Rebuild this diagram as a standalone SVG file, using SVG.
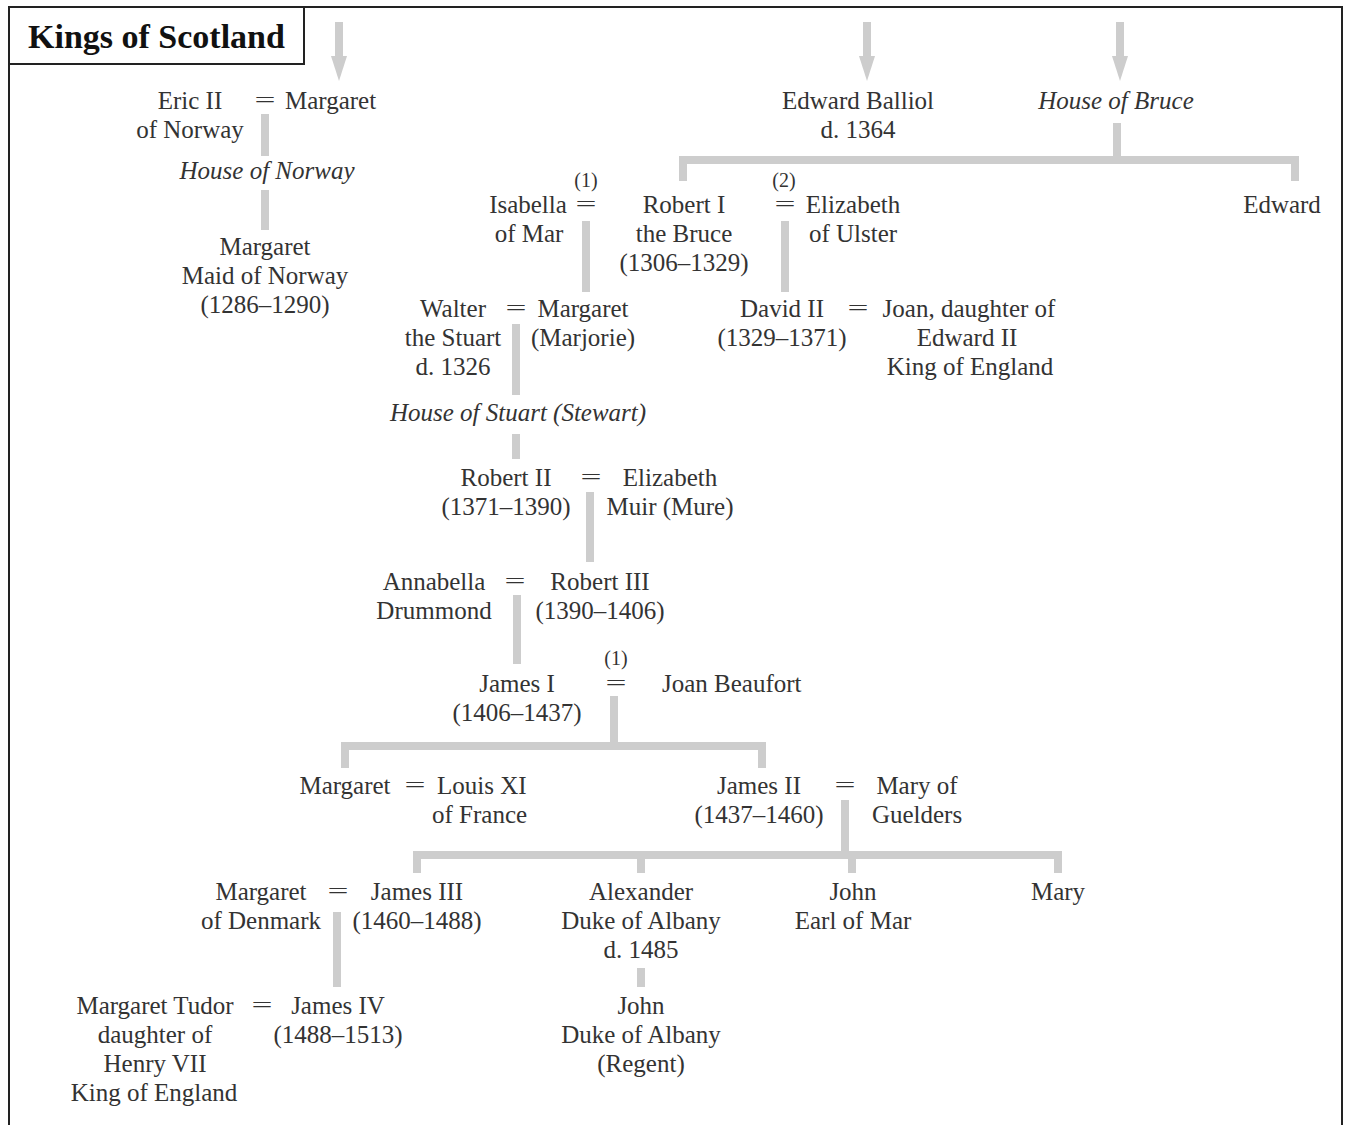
<svg xmlns="http://www.w3.org/2000/svg" width="1353" height="1125" viewBox="0 0 1353 1125">
<defs>
<style>
text{font-family:"Liberation Serif","Times New Roman",serif;font-size:25px;fill:#333;}
.c{text-anchor:middle;}
.i{font-style:italic;}
.eq{font-size:22px;text-anchor:middle;}
.sm{font-size:20px;text-anchor:middle;}
.title{font-size:34px;font-weight:bold;fill:#111;}
.ln{fill:none;stroke:#cdcdcd;stroke-width:8;stroke-linejoin:miter;}
.ar{fill:#cdcdcd;}
</style>
</defs>
<rect x="9" y="7" width="1333" height="1130" fill="#fff" stroke="#222" stroke-width="2"/>
<g id="title">
<rect x="9" y="7" width="295" height="57" fill="#fff" stroke="#222" stroke-width="2"/>
<text class="title" x="28" y="48">Kings of Scotland</text>
</g>
<g id="connectors">
<line class="ln" x1="339" y1="22" x2="339" y2="60" stroke-width="7"/>
<polygon class="ar" points="331,56 347,56 339,81"/>
<line class="ln" x1="867" y1="22" x2="867" y2="60" stroke-width="7"/>
<polygon class="ar" points="859,56 875,56 867,81"/>
<line class="ln" x1="1120" y1="22" x2="1120" y2="60" stroke-width="7"/>
<polygon class="ar" points="1112,56 1128,56 1120,81"/>
<line class="ln" x1="265" y1="114" x2="265" y2="156"/>
<line class="ln" x1="265" y1="190" x2="265" y2="230"/>
<path class="ln" d="M683,181 V160 H1295 V181 M1117,123 V160"/>
<line class="ln" x1="586" y1="221" x2="586" y2="292"/>
<line class="ln" x1="785" y1="221" x2="785" y2="292"/>
<line class="ln" x1="516" y1="324" x2="516" y2="395"/>
<line class="ln" x1="516" y1="434" x2="516" y2="459"/>
<line class="ln" x1="590" y1="492" x2="590" y2="562"/>
<line class="ln" x1="517" y1="595" x2="517" y2="664"/>
<path class="ln" d="M345,768 V746 H762 V768 M614,696 V746"/>
<path class="ln" d="M417,873 V855 H1058 V873 M845,800 V855 M641,855 V873 M852,855 V873"/>
<line class="ln" x1="337" y1="912" x2="337" y2="987"/>
<line class="ln" x1="641" y1="968" x2="641" y2="987"/>
</g>
<g id="eric">
<text class="c" x="190" y="109">Eric II<tspan x="190" y="138">of Norway</tspan></text>
</g>
<g id="eq-eric"><text class="eq" x="265" y="107" textLength="21" lengthAdjust="spacingAndGlyphs">=</text></g>
<g id="margaret-norway"><text x="285" y="109">Margaret</text></g>
<g id="house-norway"><text class="c i" x="267" y="179">House of Norway</text></g>
<g id="maid-of-norway">
<text class="c" x="265" y="255">Margaret<tspan x="265" y="284">Maid of Norway</tspan><tspan x="265" y="313">(1286–1290)</tspan></text>
</g>
<g id="balliol">
<text class="c" x="858" y="109">Edward Balliol<tspan x="858" y="138">d. 1364</tspan></text>
</g>
<g id="house-bruce"><text class="c i" x="1116" y="109">House of Bruce</text></g>
<g id="isabella">
<text class="c" x="528" y="213">Isabella<tspan x="529" y="242">of Mar</tspan></text>
</g>
<g id="eq-robert1-1">
<text class="sm" x="586" y="187">(1)</text>
<text class="eq" x="586" y="211" textLength="21" lengthAdjust="spacingAndGlyphs">=</text>
</g>
<g id="robert1">
<text class="c" x="684" y="213">Robert I<tspan x="684" y="242">the Bruce</tspan><tspan x="684" y="271">(1306–1329)</tspan></text>
</g>
<g id="eq-robert1-2">
<text class="sm" x="784" y="187">(2)</text>
<text class="eq" x="785" y="211" textLength="21" lengthAdjust="spacingAndGlyphs">=</text>
</g>
<g id="elizabeth-ulster">
<text class="c" x="853" y="213">Elizabeth<tspan x="853" y="242">of Ulster</tspan></text>
</g>
<g id="edward"><text class="c" x="1282" y="213">Edward</text></g>
<g id="walter">
<text class="c" x="453" y="317">Walter<tspan x="453" y="346">the Stuart</tspan><tspan x="453" y="375">d. 1326</tspan></text>
</g>
<g id="eq-walter"><text class="eq" x="516" y="315" textLength="21" lengthAdjust="spacingAndGlyphs">=</text></g>
<g id="marjorie">
<text class="c" x="583" y="317">Margaret<tspan x="583" y="346">(Marjorie)</tspan></text>
</g>
<g id="david2">
<text class="c" x="782" y="317">David II<tspan x="782" y="346">(1329–1371)</tspan></text>
</g>
<g id="eq-david"><text class="eq" x="858" y="315" textLength="21" lengthAdjust="spacingAndGlyphs">=</text></g>
<g id="joan-england">
<text class="c" x="969" y="317">Joan, daughter of<tspan x="967" y="346">Edward II</tspan><tspan x="970" y="375">King of England</tspan></text>
</g>
<g id="house-stuart"><text class="c i" x="518" y="421">House of Stuart (Stewart)</text></g>
<g id="robert2">
<text class="c" x="506" y="486">Robert II<tspan x="506" y="515">(1371–1390)</tspan></text>
</g>
<g id="eq-robert2"><text class="eq" x="591" y="484" textLength="21" lengthAdjust="spacingAndGlyphs">=</text></g>
<g id="elizabeth-muir">
<text class="c" x="670" y="486">Elizabeth<tspan x="670" y="515">Muir (Mure)</tspan></text>
</g>
<g id="annabella">
<text class="c" x="434" y="590">Annabella<tspan x="434" y="619">Drummond</tspan></text>
</g>
<g id="eq-robert3"><text class="eq" x="515" y="588" textLength="21" lengthAdjust="spacingAndGlyphs">=</text></g>
<g id="robert3">
<text class="c" x="600" y="590">Robert III<tspan x="600" y="619">(1390–1406)</tspan></text>
</g>
<g id="james1">
<text class="c" x="517" y="692">James I<tspan x="517" y="721">(1406–1437)</tspan></text>
</g>
<g id="eq-james1">
<text class="sm" x="616" y="665">(1)</text>
<text class="eq" x="616" y="690" textLength="21" lengthAdjust="spacingAndGlyphs">=</text>
</g>
<g id="joan-beaufort"><text x="662" y="692">Joan Beaufort</text></g>
<g id="margaret-france">
<text class="c" x="345" y="794">Margaret</text>
</g>
<g id="eq-margaret"><text class="eq" x="415" y="792" textLength="21" lengthAdjust="spacingAndGlyphs">=</text></g>
<g id="louis11">
<text x="437" y="794">Louis XI<tspan x="432" y="823">of France</tspan></text>
</g>
<g id="james2">
<text class="c" x="759" y="794">James II<tspan x="759" y="823">(1437–1460)</tspan></text>
</g>
<g id="eq-james2"><text class="eq" x="845" y="792" textLength="21" lengthAdjust="spacingAndGlyphs">=</text></g>
<g id="mary-guelders">
<text class="c" x="917" y="794">Mary of<tspan x="917" y="823">Guelders</tspan></text>
</g>
<g id="margaret-denmark">
<text class="c" x="261" y="900">Margaret<tspan x="261" y="929">of Denmark</tspan></text>
</g>
<g id="eq-james3"><text class="eq" x="338" y="898" textLength="21" lengthAdjust="spacingAndGlyphs">=</text></g>
<g id="james3">
<text class="c" x="417" y="900">James III<tspan x="417" y="929">(1460–1488)</tspan></text>
</g>
<g id="alexander">
<text class="c" x="641" y="900">Alexander<tspan x="641" y="929">Duke of Albany</tspan><tspan x="641" y="958">d. 1485</tspan></text>
</g>
<g id="john-mar">
<text class="c" x="853" y="900">John<tspan x="853" y="929">Earl of Mar</tspan></text>
</g>
<g id="mary"><text class="c" x="1058" y="900">Mary</text></g>
<g id="margaret-tudor">
<text class="c" x="155" y="1014">Margaret Tudor<tspan x="155" y="1043">daughter of</tspan><tspan x="155" y="1072">Henry VII</tspan><tspan x="154" y="1101">King of England</tspan></text>
</g>
<g id="eq-james4"><text class="eq" x="262" y="1012" textLength="21" lengthAdjust="spacingAndGlyphs">=</text></g>
<g id="james4">
<text class="c" x="338" y="1014">James IV<tspan x="338" y="1043">(1488–1513)</tspan></text>
</g>
<g id="john-albany">
<text class="c" x="641" y="1014">John<tspan x="641" y="1043">Duke of Albany</tspan><tspan x="641" y="1072">(Regent)</tspan></text>
</g>
</svg>
